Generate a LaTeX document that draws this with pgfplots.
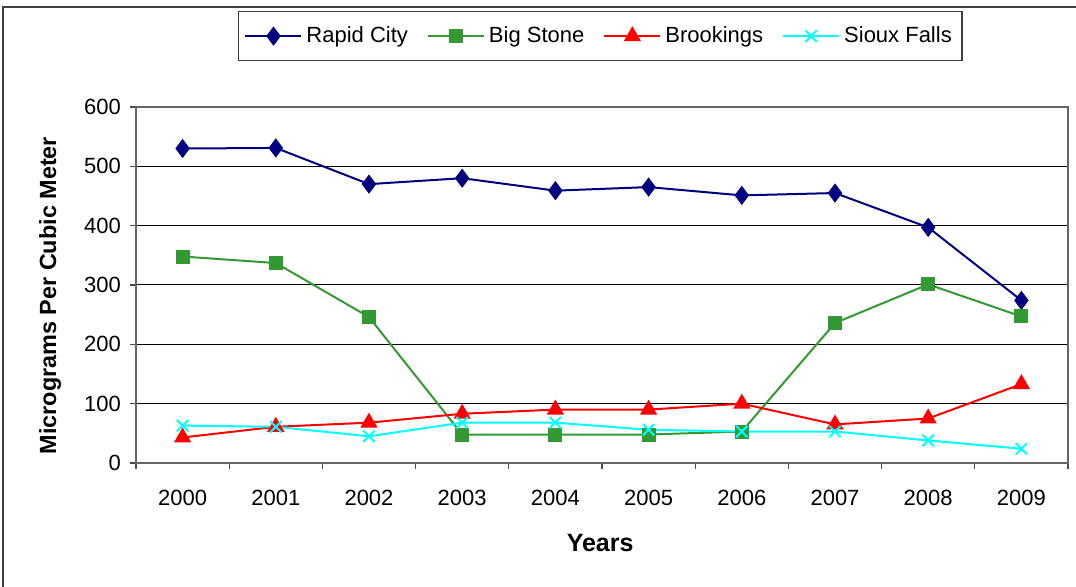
\documentclass[border=0pt]{standalone}
\usepackage{fontspec}
\setmainfont{Liberation Sans}
\usepackage{pgfplots}
\pgfplotsset{compat=1.18}
\definecolor{rapid}{RGB}{0,0,128}
\definecolor{bigstone}{RGB}{51,153,51}
\definecolor{brook}{RGB}{255,0,0}
\definecolor{sioux}{RGB}{0,255,255}
\begin{document}
\begin{tikzpicture}
\useasboundingbox (0,0) rectangle (538pt,293.5pt);
\draw[line width=1pt, black!75] (1.5pt,-10pt) -- (1.5pt,290pt) -- (560pt,290pt);
\begin{axis}[
  at={(68pt,62pt)}, anchor=south west,
  scale only axis, width=466pt, height=178pt,
  xmin=-0.5, xmax=9.5, ymin=0, ymax=600,
  xtick={0,...,9},
  xticklabels={2000,2001,2002,2003,2004,2005,2006,2007,2008,2009},
  minor xtick={-0.5,0.5,...,9.5},
  ytick={0,100,...,600},
  tick align=outside,
  major x tick style={draw=none},
  minor tick length=3pt, major tick length=3pt,
  tick style={black!70, line width=0.6pt},
  ymajorgrids, grid style={black, line width=0.5pt},
  axis line style={black!60, line width=0.9pt},
  xtick pos=bottom, ytick pos=left,
  /pgf/number format/assume math mode=true,
  ticklabel style={font=\fontsize{11}{13}\selectfont},
  xticklabel style={yshift=-7pt},
  yticklabel style={/pgf/number format/1000 sep={}, xshift=-1pt},
  xlabel={Years},
  ylabel={Micrograms Per Cubic Meter},
  every axis x label/.style={at={(axis description cs:0.498,-0.225)}, anchor=center, font=\fontsize{12.5}{15}\selectfont\bfseries},
  every axis y label/.style={at={(axis description cs:-0.0922,0.47)}, rotate=90, anchor=center, font=\fontsize{11.7}{14}\selectfont\bfseries},
  legend columns=4,
  legend style={at={(axis description cs:0.498,1.199)}, anchor=center,
    draw=black!75, line width=0.8pt, font=\fontsize{11}{13}\selectfont,
    /tikz/every even column/.append style={column sep=7.5pt},
    inner xsep=3pt, inner ysep=5.5pt},
  legend image code/.code={\draw[mark repeat=2,mark phase=2] plot coordinates {(0pt,0pt) (14pt,0pt) (28pt,0pt)};},
  legend image post style={line width=1pt},
  every axis plot/.append style={line width=1pt},
]
\addplot[rapid, mark=diamond*, mark size=4pt, mark options={solid}] coordinates {
(0,530) (1,531) (2,470) (3,480) (4,459) (5,465) (6,451) (7,455) (8,397) (9,274)};
\addlegendentry{Rapid City}
\addplot[bigstone, mark=square*, mark size=3pt] coordinates {
(0,348) (1,337) (2,246) (3,48) (4,48) (5,48) (6,53) (7,236) (8,301) (9,247)};
\addlegendentry{Big Stone}
\addplot[brook, mark=triangle*, mark size=4pt] coordinates {
(0,43) (1,61) (2,68) (3,83) (4,90) (5,90) (6,100) (7,65) (8,75) (9,133)};
\addlegendentry{Brookings}
\addplot[sioux, mark=x, mark size=4pt] coordinates {
(0,63) (1,61) (2,45) (3,68) (4,68) (5,56) (6,53) (7,53) (8,38) (9,24)};
\addlegendentry{Sioux Falls}
\end{axis}
\end{tikzpicture}
\end{document}
